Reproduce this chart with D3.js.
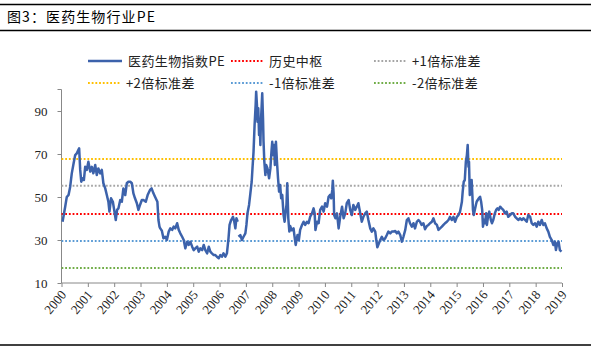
<!DOCTYPE html>
<html>
<head>
<meta charset="utf-8">
<script src="https://cdn.jsdelivr.net/npm/d3@7"></script>
<style>
  html, body { margin: 0; padding: 0; background: #fff; }
  svg { display: block; }
</style>
</head>
<body>
<svg id="chart" width="591" height="349"></svg>
<script>
// Pharma & biotech index PE, 2000–2019 (time as decimal years)
const years = [
  2000.04,2000.14,2000.20,2000.27,2000.33,2000.39,2000.46,2000.52,2000.58,2000.67,2000.71,2000.75,2000.80,2000.85,2000.90,2000.96,
  2001.02,2001.09,2001.15,2001.21,2001.28,2001.34,2001.40,2001.47,2001.53,2001.59,2001.66,2001.72,2001.78,2001.82,2001.88,2001.95,
  2002.01,2002.06,2002.11,2002.16,2002.23,2002.29,2002.35,2002.42,2002.48,2002.54,2002.61,2002.67,2002.73,2002.79,2002.86,2002.92,2002.98,
  2003.05,2003.11,2003.20,2003.27,2003.36,2003.42,2003.49,2003.55,2003.64,2003.68,2003.72,2003.75,2003.81,2003.87,2003.94,
  2004.00,2004.07,2004.13,2004.20,2004.26,2004.32,2004.39,2004.45,2004.51,2004.58,2004.64,2004.70,2004.77,2004.83,2004.89,2004.96,
  2005.02,2005.08,2005.15,2005.21,2005.27,2005.34,2005.40,2005.46,2005.53,2005.59,2005.65,2005.71,2005.78,2005.84,2005.90,2005.97,
  2006.03,2006.09,2006.15,2006.22,2006.28,2006.34,2006.38,2006.44,2006.51,2006.56,2006.60,2006.64,2006.69,2006.705,
  2006.72,2006.79,2006.85,2006.91,2006.98,
  2007.02,2007.06,2007.12,2007.17,2007.22,2007.25,2007.29,2007.33,2007.37,2007.39,2007.42,2007.44,2007.47,2007.50,2007.52,2007.55,2007.57,
  2007.60,2007.62,2007.65,2007.67,2007.70,2007.74,2007.77,2007.82,2007.88,2007.93,2007.97,
  2008.00,2008.03,2008.07,2008.10,2008.14,2008.18,2008.22,2008.26,2008.30,2008.34,2008.38,2008.43,2008.47,2008.51,2008.54,2008.57,2008.61,
  2008.65,2008.68,2008.74,2008.81,2008.84,2008.89,2008.96,
  2009.01,2009.06,2009.13,2009.19,2009.25,2009.32,2009.38,2009.44,2009.51,2009.57,2009.61,2009.64,2009.70,2009.76,2009.82,2009.89,2009.95,
  2010.01,2010.08,2010.14,2010.20,2010.24,2010.28,2010.30,2010.33,2010.35,2010.40,2010.46,2010.52,2010.58,2010.65,2010.71,2010.77,2010.83,2010.90,2010.96,
  2011.02,2011.08,2011.15,2011.21,2011.27,2011.34,2011.40,2011.46,2011.53,2011.59,2011.65,2011.72,2011.78,2011.84,2011.91,2011.95,2011.99,
  2012.05,2012.10,2012.16,2012.22,2012.29,2012.35,2012.41,2012.48,2012.54,2012.60,2012.67,2012.73,2012.79,2012.86,2012.92,2012.98,
  2013.05,2013.11,2013.17,2013.23,2013.30,2013.36,2013.42,2013.49,2013.55,2013.61,2013.67,2013.74,2013.80,2013.87,2013.93,2013.99,
  2014.06,2014.12,2014.18,2014.25,2014.31,2014.37,2014.44,2014.50,2014.56,2014.63,2014.69,2014.75,2014.82,2014.88,2014.94,
  2015.01,2015.07,2015.13,2015.20,2015.23,2015.27,2015.31,2015.35,2015.39,2015.42,2015.45,2015.47,2015.50,2015.52,2015.55,2015.57,2015.60,
  2015.62,2015.65,2015.69,2015.73,2015.76,2015.80,2015.84,2015.89,2015.93,2015.97,
  2016.00,2016.04,2016.08,2016.12,2016.15,2016.19,2016.24,2016.30,2016.34,2016.39,2016.45,2016.50,2016.55,2016.60,2016.65,2016.71,2016.77,2016.84,2016.90,2016.96,
  2017.03,2017.09,2017.15,2017.22,2017.28,2017.34,2017.41,2017.47,2017.54,2017.60,2017.66,2017.72,2017.79,2017.85,2017.91,2017.98,
  2018.04,2018.10,2018.16,2018.23,2018.29,2018.35,2018.42,2018.48,2018.54,2018.61,2018.67,2018.73,2018.77,2018.82,2018.87,2018.92,2018.98
];

// PE values; null marks a gap in the published series
const pe = [
  38.5,45.5,50,51,54.8,61,65.7,69.5,70.3,72.6,62.6,57.1,58.7,57.9,64.1,62.6,
  66.4,61.8,64,61,64.9,60.2,63.3,61,62.6,56.4,54,50.9,47.8,43.2,49.4,47.8,
  43.2,39.3,44,44.7,48.6,47.8,54,50.9,56.4,57.1,57.1,56.4,51.7,49.4,47.1,44,46.3,
  48.6,48.6,47.8,50.9,53.3,54,51.7,50.1,47.8,39.3,36.2,35.4,34.3,30.8,31.5,
  30,33.9,35.4,34.7,36.2,35.4,37.8,34.7,33.1,31.5,30,26.1,29.2,27.7,29.2,26.9,
  25.3,26.1,26.9,24.6,26.1,25.3,27.7,25.3,23.8,26.9,24.6,23.8,23,23,22.2,21.5,
  23,22.2,23.8,22.2,23.8,30.8,37,39.3,40.8,38.5,35.4,40.1,38.5,null,
  31.5,32.3,30,31.5,33.1,
  37,42.4,46.3,51.7,57.1,63.3,71,83.5,92.8,99,92.8,85,91.3,78.8,85,74.2,85,
  92.8,98.2,86.6,75.7,66.4,60.2,64.9,63.3,58.7,63.3,71,
  75.7,69.5,74.2,64.9,75.7,66.4,58.7,52.5,55.6,49.4,51,41.6,38.5,43.2,46.3,56.4,40,
  33.9,36.5,34.5,35.4,32.3,27.7,32.3,
  30,34.7,37,38.5,37,38.5,37.8,40.8,42.4,44.7,42.4,34.7,38.5,37.8,44,45.5,43.2,
  47.1,45.5,50.1,51,49.4,53.3,57.6,51.7,41.6,40.1,42.4,35.4,40.8,45.5,40.1,42.4,47.1,48.6,44,
  41.6,46.3,44,45.5,47.1,42.4,38.5,40.8,42.4,43.2,39.3,35.4,33.9,35.4,33.9,30,26.6,
  28.5,30,31.5,30,30.8,32.3,33.9,33.1,33.9,33.9,34.2,33.1,33.9,32.3,29.2,31.5,
  34.7,39.3,40.1,37.8,36.2,37.8,35.4,38.5,39.3,38.5,37,37.8,35,36.5,37,37.8,
  38.5,40.1,37.8,37,34.7,35.4,36.2,37,37.8,38.5,39.3,40.8,39.3,40.8,38.5,
  40.8,41.6,43.2,47.8,52.5,57.1,57.9,66.4,69.5,74.2,64.1,66.4,50.9,57.9,54,57.9,50.1,
  44,41.6,44,46.3,47.8,48.6,49.4,50.1,47.8,44,
  36.2,39.3,37.8,42.4,37,40.8,43.2,39.3,37.8,39.3,42.4,44,44.7,44,45.5,44.7,44,42.4,43.2,40.8,
  41.6,42.4,42.4,40.8,40.1,39.3,40.1,39.3,40.1,39.3,38.5,41.6,40.8,37.8,37,37.8,
  36.2,38.5,37,39.3,37,37.8,35.4,33.9,31.5,30,27.7,29.2,25.3,28.5,29.2,25.3,24.6
];

// Reference levels: historical median and ±1/±2 standard deviations
const refNames  = ["历史中枢", "+1倍标准差", "+2倍标准差", "-1倍标准差", "-2倍标准差"];
const refValues = [42.1, 55.2, 67.7, 29.5, 17.0];
const refColors = ["#FF0000", "#A5A5A5", "#FFC000", "#5B9BD5", "#70AD47"];

const seriesName  = "医药生物指数PE";
const seriesColor = "#3C62AB";
const yTicks = [10, 30, 50, 70, 90];
const xTicks = d3.range(2000, 2020);
const title = "图3：医药生物行业PE";

const svg = d3.select("#chart");
const W = 591, H = 349;
const cjk = "'Noto Sans CJK SC', 'Noto Sans', sans-serif";
const serif = "'Liberation Serif', 'DejaVu Serif', serif";

// Frame rules and title
svg.append("line").attr("x1", 0).attr("x2", W).attr("y1", 4.5).attr("y2", 4.5)
  .attr("stroke", "#000").attr("stroke-width", 1.5);
svg.append("line").attr("x1", 0).attr("x2", W).attr("y1", 30.5).attr("y2", 30.5)
  .attr("stroke", "#000").attr("stroke-width", 1.5);
svg.append("line").attr("x1", 0).attr("x2", W).attr("y1", 345).attr("y2", 345)
  .attr("stroke", "#000").attr("stroke-width", 1.5);
svg.append("text").attr("x", 7).attr("y", 21.5)
  .attr("font-family", cjk).attr("font-size", 14).attr("letter-spacing", 1.1).attr("fill", "#000")
  .text(title);

// Scales
const x = d3.scaleLinear().domain([2000, 2019]).range([61.5, 562]);
const y = d3.scaleLinear().domain([10, 100]).range([283, 89.5]);

// Axes
const yAxis = d3.axisLeft(y).tickValues(yTicks).tickSize(4).tickPadding(10).tickFormat(d3.format("d"));
const gy = svg.append("g").attr("transform", `translate(${x(2000)},0)`).call(yAxis);
gy.select(".domain").attr("stroke", "#888").attr("d", `M-4,${y(100)}H0V${y(10)}`);
gy.selectAll(".tick line").attr("stroke", "#888");
gy.selectAll("text").attr("font-family", serif).attr("font-size", 13).attr("fill", "#222");

const xAxis = d3.axisBottom(x).tickValues(xTicks).tickSize(4).tickFormat(d3.format("d"));
const gx = svg.append("g").attr("transform", `translate(0,${y(10)})`).call(xAxis);
gx.select(".domain").attr("stroke", "#888").attr("d", `M${x(2000)},0H${x(2019)}`);
gx.selectAll(".tick line").attr("stroke", "#888");
gx.selectAll("text")
  .attr("font-family", serif).attr("font-size", 13).attr("fill", "#222")
  .attr("text-anchor", "end")
  .attr("dy", 0).attr("y", 0)
  .attr("transform", "translate(5,12) rotate(-50)");

// Reference lines
const refs = refValues.map((v, i) => ({ name: refNames[i], value: v, color: refColors[i] }));
svg.append("g").selectAll("line").data(refs).join("line")
  .attr("x1", x(2000)).attr("x2", x(2019))
  .attr("y1", d => y(d.value)).attr("y2", d => y(d.value))
  .attr("stroke", d => d.color).attr("stroke-width", 2)
  .attr("stroke-dasharray", "1.8,1.9");

// PE series
const pts = years.map((t, i) => ({ t, v: pe[i] }));
const line = d3.line()
  .defined(d => d.v !== null)
  .x(d => x(d.t)).y(d => y(d.v));
svg.append("path").datum(pts)
  .attr("d", line)
  .attr("fill", "none")
  .attr("stroke", seriesColor)
  .attr("stroke-width", 2.5)
  .attr("stroke-linejoin", "round");

// Legend
const legendItems = [
  { name: seriesName, color: seriesColor, solid: true },
  refs[0], refs[1], refs[2], refs[3], refs[4]
];
const colX = [88, 231, 374];
const rowY = [61, 83];
const lg = svg.append("g").selectAll("g").data(legendItems).join("g")
  .attr("transform", (d, i) => `translate(${colX[i % 3]},${rowY[Math.floor(i / 3)]})`);
lg.append("line")
  .attr("x1", 0).attr("x2", d => d.solid ? 34 : 33).attr("y1", 0).attr("y2", 0)
  .attr("stroke", d => d.color)
  .attr("stroke-width", d => d.solid ? 2.5 : 2)
  .attr("stroke-dasharray", d => d.solid ? null : "1.8,1.9");
lg.append("text")
  .attr("x", d => d.solid ? 40 : 38).attr("y", 0).attr("dy", "0.35em")
  .attr("font-family", cjk).attr("font-size", 13).attr("letter-spacing", 0.4).attr("fill", "#222")
  .text(d => d.name);
</script>
</body>
</html>
